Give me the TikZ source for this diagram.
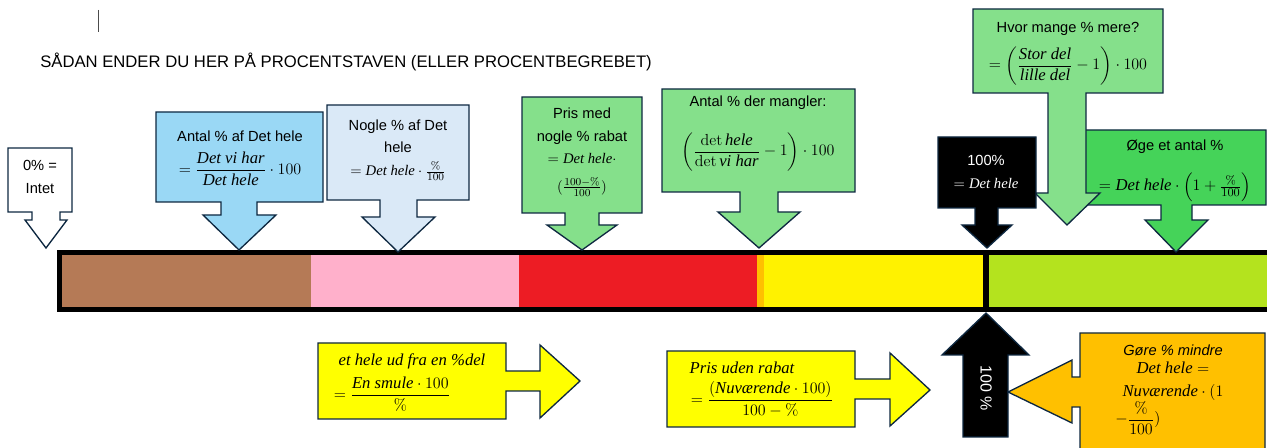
\documentclass[tikz,border=0pt]{standalone}
\usepackage{amsmath}
\usepackage[no-math]{fontspec}
\setmainfont{Liberation Sans}
\newfontfamily\mathserif{Liberation Serif}
\newcommand{\mw}[1]{\text{\mathserif\itshape #1}}
\definecolor{edge}{HTML}{0E2841}
\definecolor{brownseg}{HTML}{B57A56}
\definecolor{pinkseg}{HTML}{FFB0CB}
\definecolor{redseg}{HTML}{ED1C24}
\definecolor{orangeseg}{HTML}{FFC000}
\definecolor{yellowseg}{HTML}{FFF200}
\definecolor{limeseg}{HTML}{B4E31E}
\definecolor{skyblue}{HTML}{9AD8F5}
\definecolor{paleblue}{HTML}{DAE9F7}
\definecolor{mintgreen}{HTML}{85E08B}
\definecolor{deepgreen}{HTML}{45D359}
\definecolor{callyellow}{HTML}{FFFF00}
\definecolor{callorange}{HTML}{FFC000}
\tikzset{call/.style = {draw=edge, line width=1pt, line join=miter},
         lbl/.style = {font=\fontsize{11}{17}\selectfont, align=center, inner sep=0pt},
         fml/.style = {font=\fontsize{12.5}{17}\selectfont, align=center, inner sep=0pt}}

\begin{document}
\begin{tikzpicture}[x=0.75pt, y=-0.75pt]
        \useasboundingbox (0,0) rectangle (1267,448);
        \clip (0,0) rectangle (1267,448);

        % cursor and title
        \draw[line width=0.7pt, black!70] (98,10) -- (98,32);
        \node[anchor=base west, font=\fontsize{12.5}{14}\selectfont, inner sep=0pt] (title) at (40,68)
            {SÅDAN ENDER DU HER PÅ PROCENTSTAVEN (ELLER PROCENTBEGREBET)};

        % the bar
        \fill[black] (57,250) rectangle (1280,312);
        \fill[brownseg] (62,255) rectangle (311,307);
        \fill[pinkseg] (311,255) rectangle (519,307);
        \fill[redseg] (519,255) rectangle (757,307);
        \fill[orangeseg] (757,255) rectangle (764,307);
        \fill[yellowseg] (764,255) rectangle (983,307);
        \fill[limeseg] (989,255) rectangle (1280,307);

        % callouts above
        \draw[call, fill=white] (8,148) -- (72,148) -- (72,212) -- (60,212) -- (60,220) -- (67,220) -- (46,248)
            -- (25,220) -- (32,220) -- (32,212) -- (8,212) -- cycle;
        \draw[call, fill=skyblue] (156,112) -- (323,112) -- (323,202) -- (257,202) -- (257,215) -- (276,215) -- (239,250)
            -- (203,215) -- (221,215) -- (221,202) -- (156,202) -- cycle;
        \draw[call, fill=paleblue] (327,105) -- (469,105) -- (469,200) -- (417,200) -- (417,217) -- (435,217) -- (398,252)
            -- (362,217) -- (380,217) -- (380,200) -- (327,200) -- cycle;
        \draw[call, fill=mintgreen] (522,97) -- (642,97) -- (642,213) -- (599,213) -- (599,225) -- (617,225) -- (582,250)
            -- (547,225) -- (565,225) -- (565,213) -- (522,213) -- cycle;
        \draw[call, fill=mintgreen] (662,89) -- (855,89) -- (855,192) -- (778,192) -- (778,212) -- (800,212) -- (759,248)
            -- (718,212) -- (740,212) -- (740,192) -- (662,192) -- cycle;
        \draw[call, fill=deepgreen] (1085,130) -- (1266,130) -- (1266,205) -- (1192,205) -- (1192,220) -- (1208,220) -- (1176,252)
            -- (1145,220) -- (1161,220) -- (1161,205) -- (1085,205) -- cycle;
        \draw[call, fill=mintgreen] (973,9) -- (1163,9) -- (1163,93) -- (1086,93) -- (1086,193) -- (1100,193) -- (1067,225)
            -- (1035,193) -- (1048,193) -- (1048,93) -- (973,93) -- cycle;
        \draw[call, fill=black] (938,137) -- (1036,137) -- (1036,208) -- (998,208) -- (998,225) -- (1012,225) -- (987,248)
            -- (962,225) -- (975,225) -- (975,208) -- (938,208) -- cycle;

        % callouts below
        \draw[call, fill=callyellow] (318,343) -- (506,343) -- (506,371) -- (540,371) -- (540,345) -- (580,381)
            -- (540,418) -- (540,391) -- (506,391) -- (506,419) -- (318,419) -- cycle;
        \draw[call, fill=callyellow] (667,351) -- (855,351) -- (855,379) -- (890,379) -- (890,353) -- (930,390)
            -- (890,426) -- (890,399) -- (855,399) -- (855,427) -- (667,427) -- cycle;
        \draw[call, fill=black] (963,437) -- (963,355) -- (942,355) -- (986,313) -- (1029,355) -- (1008,355) -- (1008,437) -- cycle;
        \draw[call, fill=callorange] (1080,333) -- (1265,333) -- (1265,460) -- (1080,460) -- (1080,407) -- (1072,407)
            -- (1072,423) -- (1008,392) -- (1072,360) -- (1072,377) -- (1080,377) -- cycle;

        % texts above
        \node[lbl] (intet) at (40,177) {0\% =\\Intet};
        \node[lbl] (antal) at (240,136) {Antal \% af Det hele};
        \node[fml] (antalf) at (240,169) {$=\dfrac{\mw{Det vi har}}{\mw{Det hele}}\cdot 100$};
        \node[lbl] (nogle) at (398,150) {Nogle \% af Det\\hele\\$=\mw{Det hele}\cdot\frac{\%}{100}$};
        \node[lbl] (prismed) at (582,136) {Pris med\\nogle \% rabat\\$=\mw{Det hele}\cdot$};
        \node[lbl] (prismedf) at (582,187) {$(\frac{100-\%}{100})$};
        \node[lbl] (mangler) at (758,103) {Antal \% der mangler:};
        \node[fml] (manglerf) at (758,152) {$\left(\dfrac{\mathrm{det}\,\mw{hele}}{\mathrm{det}\,\mw{vi har}}-1\right)\cdot 100$};
        \node[lbl, text=white] (hele) at (986,172) {100\%\\$=\mw{Det hele}$};
        \node[lbl] (mere) at (1068,29) {Hvor mange \% mere?};
        \node[fml] (meref) at (1068,66) {$=\left(\dfrac{\mw{Stor del}}{\mw{lille del}}-1\right)\cdot 100$};
        \node[lbl] (oge) at (1175,147) {Øge et antal \%};
        \node[fml] (ogef) at (1175,187) {$=\mw{Det hele}\cdot\left(1+\frac{\%}{100}\right)$};

        % texts below
        \node[fml] (udfra) at (412,361) {$\mw{et hele ud fra en \%del}$};
        \node[fml] (udfraf) at (392,394) {$=\dfrac{\mw{En smule}\cdot 100}{\%}$};
        \node[fml] (uden) at (742,368) {$\mw{Pris uden rabat}$};
        \node[fml] (udenf) at (762,399) {$=\dfrac{(\mw{Nuværende}\cdot 100)}{100-\%}$};
        \node[lbl, text=white, rotate=-90, font=\fontsize{12}{14}\selectfont] (hundred) at (986,388) {100 \%};
        \node[lbl] (mindre) at (1173,350) {\textit{Gøre \% mindre}};
        \node[fml] (mindref) at (1173,381) {$\mw{Det hele}=$\\$\mw{Nuværende}\cdot(1$};
        \node[fml, anchor=west] (mindreg) at (1115,418) {$-\dfrac{\%}{100})$};
\end{tikzpicture}
\end{document}
